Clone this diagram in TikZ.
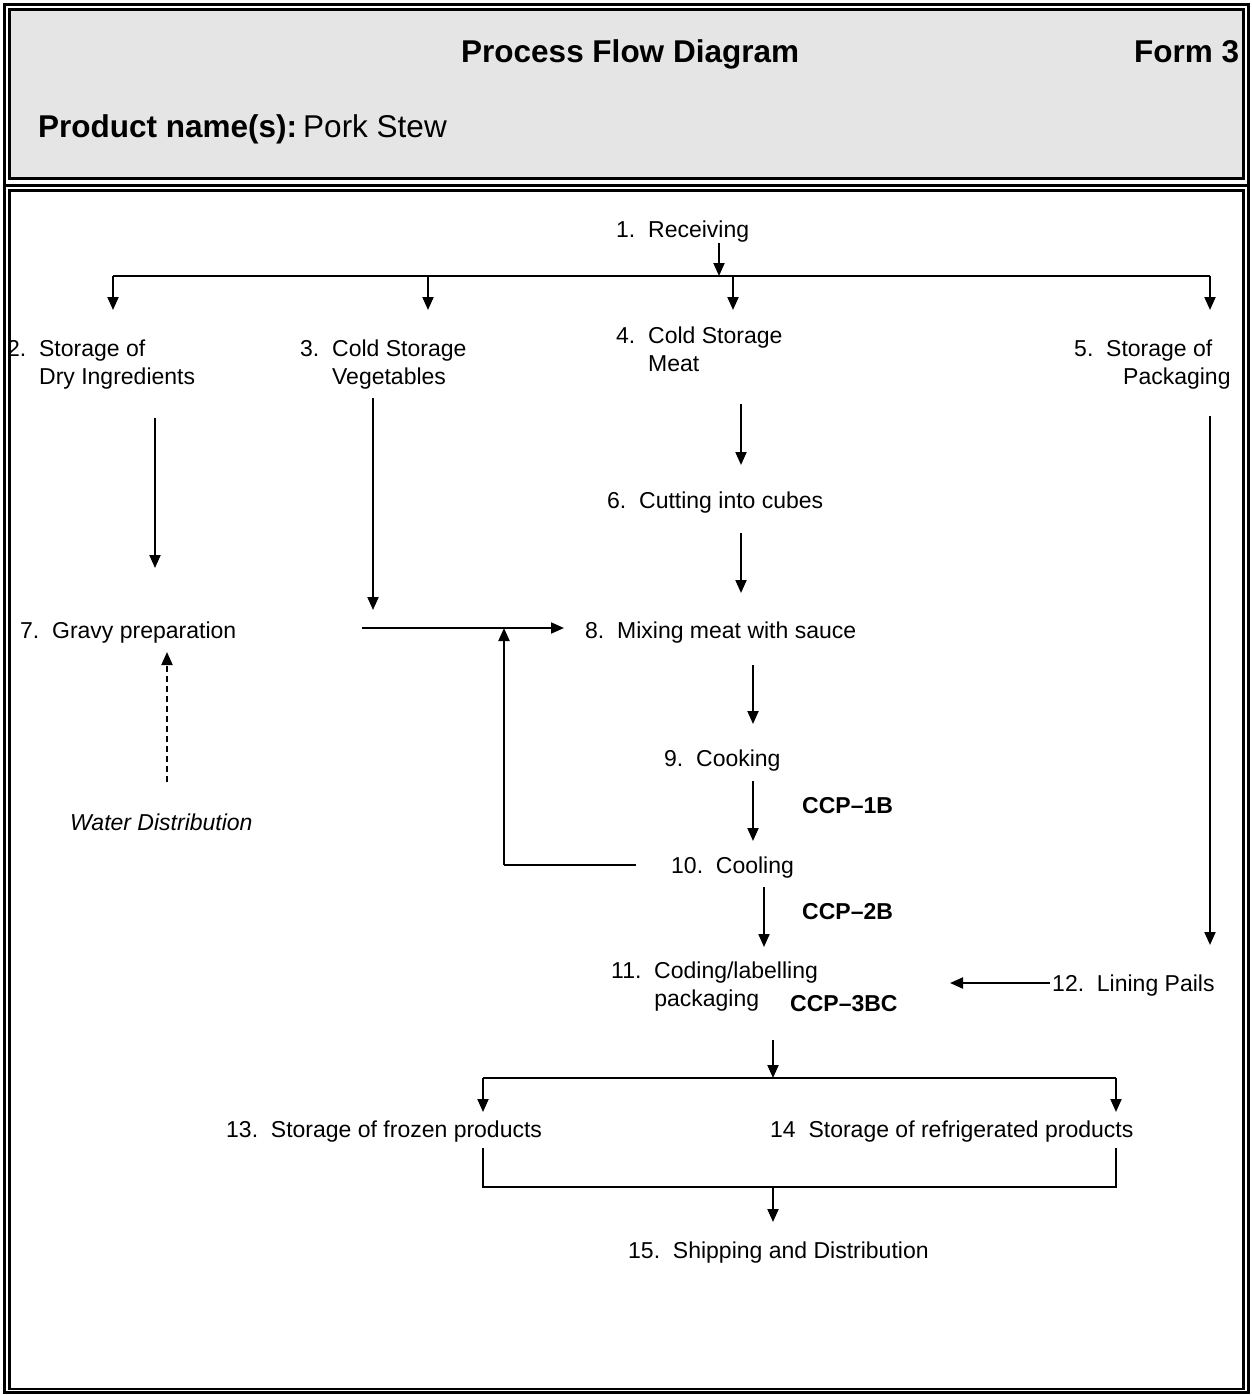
\documentclass[tikz,border=0pt]{standalone}
\usepackage{fontspec}
\setmainfont{Liberation Sans}
\usetikzlibrary{arrows.meta}
\definecolor{hdrgray}{RGB}{229,229,229}
\begin{document}
\begin{tikzpicture}[x=1pt,y=-1pt,
  txt/.style={inner sep=0pt, anchor=base west, font=\fontsize{23}{28}\selectfont},
  ccp/.style={inner sep=0pt, anchor=base west, font=\fontsize{23}{28}\selectfont\bfseries},
  hdr/.style={inner sep=0pt, anchor=base west, font=\fontsize{31.5}{36}\selectfont},
  arr/.style={line width=2pt, -{Triangle[length=13pt,width=11pt]}},
  darr/.style={arr, dash pattern=on 6pt off 4pt},
  tree/.style={line width=1.4pt},
  frm/.style={line width=3pt}]
\useasboundingbox (0,0) rectangle (1251,1395);
% frame
\draw[frm] (4.5,4.5) rectangle (1248.5,1392.5);
\draw[frm, fill=hdrgray] (9.5,9.5) rectangle (1243.5,178.5);
\draw[frm] (4.5,185.5) -- (1248.5,185.5);
\draw[line width=2.5pt] (9.5,190.5) rectangle (1243.5,1389);
% header
\node[hdr] (title) at (461,62) {\bfseries Process Flow Diagram};
\node[hdr] (form) at (1134,62) {\bfseries Form 3};
\node[hdr] (prod) at (38,137) {\textbf{Product name(s):}\hspace{6pt}Pork Stew};
% steps
\node[txt] (n1) at (616,237) {1.~~Receiving};
\node[txt] (n2) at (7,356) {\begin{tabular}[t]{@{}l@{~~}l@{}}2.&Storage of\\&Dry Ingredients\end{tabular}};
\node[txt] (n3) at (300,356) {\begin{tabular}[t]{@{}l@{~~}l@{}}3.&Cold Storage\\&Vegetables\end{tabular}};
\node[txt] (n4) at (616,343) {\begin{tabular}[t]{@{}l@{~~}l@{}}4.&Cold Storage\\&Meat\end{tabular}};
\node[txt] (n5) at (1074,356) {\begin{tabular}[t]{@{}l@{~~}l@{}}5.&Storage of\\&\hspace{17pt}Packaging\end{tabular}};
\node[txt] (n6) at (607,508) {6.~~Cutting into cubes};
\node[txt] (n7) at (20,638) {7.~~Gravy preparation};
\node[txt] (n8) at (585,638) {8.~~Mixing meat with sauce};
\node[txt] (n9) at (664,766) {9.~~Cooking};
\node[txt] (water) at (70,830) {\itshape Water Distribution};
\node[txt] (n10) at (671,873) {10.~~Cooling};
\node[txt] (n11) at (611,978) {\begin{tabular}[t]{@{}l@{~~}l@{}}11.&Coding/labelling\\&packaging\end{tabular}};
\node[txt] (n12) at (1052,991) {12.~~Lining Pails};
\node[txt] (n13) at (226,1137) {13.~~Storage of frozen products};
\node[txt] (n14) at (770,1137) {14~~Storage of refrigerated products};
\node[txt] (n15) at (628,1258) {15.~~Shipping and Distribution};
\node[ccp] (ccp1) at (802,813) {CCP–1B};
\node[ccp] (ccp2) at (802,919) {CCP–2B};
\node[ccp] (ccp3) at (790,1011) {CCP–3BC};
% connector points
\coordinate (r0) at (719,243);
\coordinate (ra) at (719,276);
\coordinate (tl) at (113,276);
\coordinate (tr) at (1210,276);
\coordinate (t3) at (428,276);
\coordinate (t4) at (733,276);
\coordinate (a2) at (113,310);
\coordinate (a3) at (428,310);
\coordinate (a4) at (733,310);
\coordinate (a5) at (1210,310);
\coordinate (s2) at (155,418);
\coordinate (e7) at (155,568);
\coordinate (s3) at (373,398);
\coordinate (e3) at (373,610);
\coordinate (s4) at (741,404);
\coordinate (e6) at (741,465);
\coordinate (s5) at (1210,416);
\coordinate (e12) at (1210,945);
\coordinate (s6) at (741,533);
\coordinate (e8a) at (741,593);
\coordinate (m0) at (362,628);
\coordinate (m1) at (564,628);
\coordinate (lc) at (636,865);
\coordinate (lk) at (504,865);
\coordinate (lu) at (504,628);
\coordinate (s8) at (753,665);
\coordinate (e9) at (753,724);
\coordinate (w0) at (167,782);
\coordinate (w1) at (167,652);
\coordinate (s9) at (753,781);
\coordinate (e10) at (753,841);
\coordinate (s10) at (764,887);
\coordinate (e11) at (764,947);
\coordinate (s12) at (1050,983);
\coordinate (e11b) at (950,983);
\coordinate (s11) at (773,1040);
\coordinate (b0) at (773,1078);
\coordinate (bl) at (483,1078);
\coordinate (br) at (1116,1078);
\coordinate (b13) at (483,1112);
\coordinate (b14) at (1116,1112);
\coordinate (c13) at (483,1148);
\coordinate (c14) at (1116,1148);
\coordinate (cl) at (483,1187);
\coordinate (cr) at (1116,1187);
\coordinate (cm) at (773,1187);
\coordinate (e15) at (773,1222);
% connectors
\draw[arr] (r0) -- (ra);
\draw[tree] (tl) -- (tr);
\draw[arr] (tl) -- (a2);
\draw[arr] (t3) -- (a3);
\draw[arr] (t4) -- (a4);
\draw[arr] (tr) -- (a5);
\draw[arr] (s2) -- (e7);
\draw[arr] (s3) -- (e3);
\draw[arr] (s4) -- (e6);
\draw[arr] (s5) -- (e12);
\draw[arr] (s6) -- (e8a);
\draw[arr] (m0) -- (m1);
\draw[line width=2pt] (lc) -- (lk);
\draw[arr] (lk) -- (lu);
\draw[arr] (s8) -- (e9);
\draw[darr] (w0) -- (w1);
\draw[arr] (s9) -- (e10);
\draw[arr] (s10) -- (e11);
\draw[arr] (s12) -- (e11b);
\draw[arr] (s11) -- (b0);
\draw[tree] (bl) -- (br);
\draw[arr] (bl) -- (b13);
\draw[arr] (br) -- (b14);
\draw[tree] (c13) -- (cl) -- (cr) -- (c14);
\draw[arr] (cm) -- (e15);
\end{tikzpicture}
\end{document}
